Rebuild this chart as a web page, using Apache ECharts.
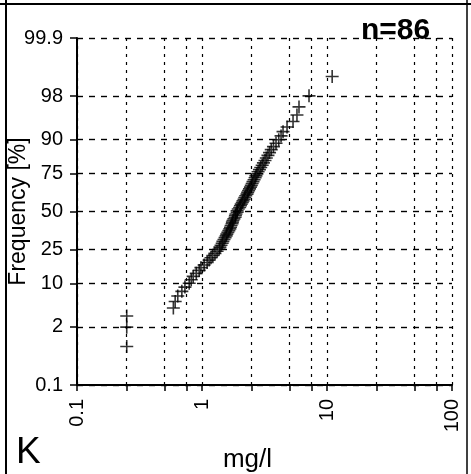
<!DOCTYPE html>
<html>
<head>
<meta charset="utf-8">
<script src="https://cdn.jsdelivr.net/npm/echarts@6/dist/echarts.min.js"></script>
<style>
  html, body { margin: 0; padding: 0; background: #fff; }
  #chart { width: 471px; height: 474px; }
</style>
</head>
<body>
<div id="chart"></div>
<script>
// concentration (mg/l), sorted, one per sample
var conc = [0.25, 0.25, 0.25, 0.59, 0.61, 0.64, 0.69, 0.73, 0.79, 0.82,
    0.85, 0.90, 0.95, 0.98, 1.04, 1.10, 1.14, 1.18, 1.22, 1.27,
    1.32, 1.37, 1.39, 1.42, 1.45, 1.47, 1.50, 1.53, 1.56, 1.58,
    1.61, 1.64, 1.67, 1.69, 1.71, 1.74, 1.75, 1.77, 1.80, 1.84,
    1.85, 1.87, 1.91, 1.91, 1.95, 2.00, 2.03, 2.06, 2.10, 2.13,
    2.17, 2.20, 2.24, 2.29, 2.32, 2.36, 2.40, 2.44, 2.48, 2.52,
    2.56, 2.61, 2.66, 2.70, 2.75, 2.81, 2.88, 2.95, 3.03, 3.10,
    3.19, 3.27, 3.37, 3.47, 3.58, 3.73, 3.91, 4.11, 4.29, 4.45,
    4.79, 5.35, 5.75, 5.97, 7.18, 11.0];
// cumulative frequency [%] of each sample
var freq = [0.81, 1.97, 3.13, 4.28, 5.44, 6.60, 7.75, 8.91, 10.07, 11.23,
    12.38, 13.54, 14.70, 15.86, 17.01, 18.17, 19.33, 20.49, 21.64, 22.80,
    23.96, 25.12, 26.27, 27.43, 28.59, 29.75, 30.90, 32.06, 33.22, 34.38,
    35.53, 36.69, 37.85, 39.00, 40.16, 41.32, 42.48, 43.63, 44.79, 45.95,
    47.11, 48.26, 49.42, 50.58, 51.74, 52.89, 54.05, 55.21, 56.37, 57.52,
    58.68, 59.84, 61.00, 62.15, 63.31, 64.47, 65.62, 66.78, 67.94, 69.10,
    70.25, 71.41, 72.57, 73.73, 74.88, 76.04, 77.20, 78.36, 79.51, 80.67,
    81.83, 82.99, 84.14, 85.30, 86.46, 87.62, 88.77, 89.93, 91.09, 92.25,
    93.40, 94.56, 95.72, 96.88, 98.03, 99.19];

var xTicks = [0.1, 0.25, 0.5, 0.75, 1, 2.5, 5, 7.5, 10, 25, 50, 75, 100];
var xLabels = [0.1, 1, 10, 100];
var yTicks = [0.1, 2, 10, 25, 50, 75, 90, 98, 99.9];

// probit (inverse normal), Acklam
function probit(p) {
    var a = [-3.969683028665376e+01, 2.209460984245205e+02, -2.759285104469687e+02, 1.383577518672690e+02, -3.066479806614716e+01, 2.506628277459239e+00];
    var b = [-5.447609879822406e+01, 1.615858368580409e+02, -1.556989798598866e+02, 6.680131188771972e+01, -1.328068155288572e+01];
    var c = [-7.784894002430293e-03, -3.223964580411365e-01, -2.400758277161838e+00, -2.549732539343734e+00, 4.374664141464968e+00, 2.938163982698783e+00];
    var d = [7.784695709041462e-03, 3.224671290700398e-01, 2.445134137142996e+00, 3.754408661907416e+00];
    var q, r;
    if (p < 0.02425) {
        q = Math.sqrt(-2 * Math.log(p));
        return (((((c[0]*q+c[1])*q+c[2])*q+c[3])*q+c[4])*q+c[5]) / ((((d[0]*q+d[1])*q+d[2])*q+d[3])*q+1);
    }
    if (p > 1 - 0.02425) {
        q = Math.sqrt(-2 * Math.log(1 - p));
        return -(((((c[0]*q+c[1])*q+c[2])*q+c[3])*q+c[4])*q+c[5]) / ((((d[0]*q+d[1])*q+d[2])*q+d[3])*q+1);
    }
    q = p - 0.5; r = q * q;
    return (((((a[0]*r+a[1])*r+a[2])*r+a[3])*r+a[4])*r+a[5])*q / (((((b[0]*r+b[1])*r+b[2])*r+b[3])*r+b[4])*r+1);
}
function lg(v) { return Math.log(v) / Math.LN10; }
function yz(pc) { return probit(pc / 100); }

var FONT = '"Liberation Sans Narrow", "Liberation Sans", Arial, sans-serif';
var pts = conc.map(function (v, i) { return [lg(v), yz(freq[i])]; });
var xTickV = xTicks.map(lg), xLabV = xLabels.map(lg), yTickV = yTicks.map(yz);

var chart = echarts.init(document.getElementById('chart'));
chart.setOption({
    backgroundColor: '#fff',
    animation: false,
    title: {
        text: 'n=86', left: 356, top: 11,
        textStyle: { fontFamily: FONT, fontSize: 30, fontWeight: 'bold', color: '#000' }
    },
    grid: { left: 77, top: 38, width: 375, height: 347, outerBoundsMode: 'none', containLabel: false },
    xAxis: {
        type: 'value', min: lg(0.1), max: lg(100),
        name: 'mg/l', nameLocation: 'middle', nameGap: 62, nameMoveOverlap: false,
        nameTextStyle: { fontFamily: FONT, fontSize: 26, color: '#000', padding: [0, 34, 0, 0] },
        axisLine: { onZero: false, lineStyle: { color: '#000', width: 2 } },
        axisTick: { customValues: xTickV, length: 6, lineStyle: { color: '#000', width: 1.5 } },
        axisLabel: {
            customValues: xLabV, rotate: 90, margin: 14,
            fontFamily: FONT, fontSize: 20, color: '#000',
            formatter: function (v) { return String(Number(Math.pow(10, v).toPrecision(6))); }
        },
        splitLine: { show: true, lineStyle: { color: '#000', width: 1.2, type: [3, 5] } }
    },
    yAxis: {
        type: 'value', min: yz(0.1), max: yz(99.9),
        name: 'Frequency [%]', nameLocation: 'middle', nameGap: 47, nameRotate: 90, nameMoveOverlap: false,
        nameTextStyle: { fontFamily: FONT, fontSize: 23, color: '#000' },
        axisLine: { show: true, onZero: false, lineStyle: { color: '#000', width: 2 } },
        axisTick: { show: true, customValues: yTickV, length: 7, lineStyle: { color: '#000', width: 1.5 } },
        axisLabel: {
            customValues: yTickV, margin: 14,
            fontFamily: FONT, fontSize: 20, color: '#000',
            formatter: function (v) {
                for (var i = 0; i < yTicks.length; i++) {
                    if (Math.abs(yTickV[i] - v) < 1e-6) return String(yTicks[i]);
                }
                return '';
            }
        },
        splitLine: { show: true, lineStyle: { color: '#000', width: 1.4, type: [6, 6] } }
    },
    graphic: [
        { type: 'line', shape: { x1: 6, y1: 0, x2: 6, y2: 474 }, style: { stroke: '#000', lineWidth: 2 } },
        { type: 'line', shape: { x1: 0, y1: 4, x2: 471, y2: 4 }, style: { stroke: '#000', lineWidth: 2 } },
        { type: 'line', shape: { x1: 467, y1: 0, x2: 467, y2: 474 }, style: { stroke: '#000', lineWidth: 1.5 } },
        {
            type: 'text', left: 16, top: 434,
            style: { text: 'K', fontFamily: FONT, fontSize: 37, fill: '#000' }
        }
    ],
    series: [{
        type: 'scatter',
        data: pts,
        symbol: 'path://M5.7,0h1.6v5.7h5.7v1.6h-5.7v5.7h-1.6v-5.7h-5.7v-1.6h5.7z',
        symbolSize: 13,
        itemStyle: { color: '#000' }
    }]
});
</script>
</body>
</html>
